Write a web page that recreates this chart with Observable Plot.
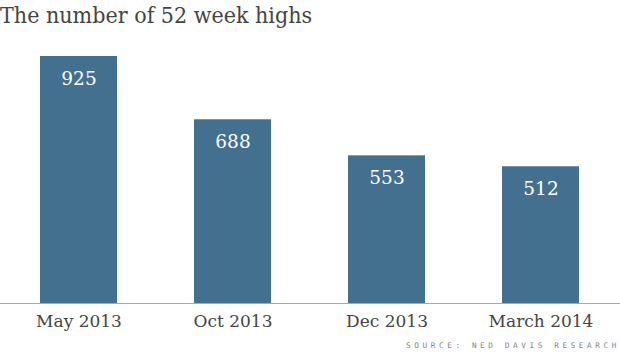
<!DOCTYPE html>
<html>
<head>
<meta charset="utf-8">
<script src="https://cdn.jsdelivr.net/npm/d3@7"></script>
<script src="https://cdn.jsdelivr.net/npm/@observablehq/plot@0.6"></script>
<style>
  html, body { margin: 0; padding: 0; background: #fff; }
  #wrap { position: relative; width: 620px; height: 354px; overflow: hidden; }
  #title { position: absolute; left: 0; top: 2px; font-family: "DejaVu Serif Condensed", "DejaVu Serif", serif; font-stretch: condensed; font-size: 23px; color: #454545; white-space: nowrap; line-height: 1.2; }
  #source { position: absolute; right: 0px; top: 342px; font-family: "DejaVu Sans Mono", monospace; font-size: 7.7px; letter-spacing: 3.6px; color: #858585; white-space: nowrap; line-height: 1; }
  svg { display: block; }
</style>
</head>
<body>
<div id="wrap">
  <div id="chart"></div>
  <div id="title">The number of 52 week highs</div>
  <div id="source">SOURCE: NED DAVIS RESEARCH</div>
</div>
<script>
const categories = ["May 2013", "Oct 2013", "Dec 2013", "March 2014"];
const values = [925, 688, 553, 512];

const data = categories.map((c, i) => ({category: c, value: values[i]}));

const chart = Plot.plot({
  width: 620,
  height: 354,
  marginTop: 56,
  marginBottom: 51,
  marginLeft: 0,
  marginRight: 0,
  style: {background: "#fff", overflow: "visible"},
  x: {domain: categories, range: [1, 618], paddingInner: 0.5, paddingOuter: 0.25, align: 0.5, label: null, axis: null},
  y: {domain: [0, 925], axis: null},
  marks: [
    Plot.barY(data, {x: "category", y: "value", fill: "#43708f"}),
    Plot.ruleY([0], {stroke: "#a3abae", strokeWidth: 1.2}),
    Plot.axisX({tickSize: 0, tickPadding: 11, fontSize: 17, fontFamily: "DejaVu Serif, serif", fill: "#454545", label: null}),
    Plot.text(data, {x: "category", y: "value", text: d => String(d.value), lineAnchor: "top", dy: 15, fill: "#fff", fontSize: 18.5, fontFamily: "DejaVu Serif, serif"})
  ]
});
document.getElementById("chart").appendChild(chart);
</script>
</body>
</html>
